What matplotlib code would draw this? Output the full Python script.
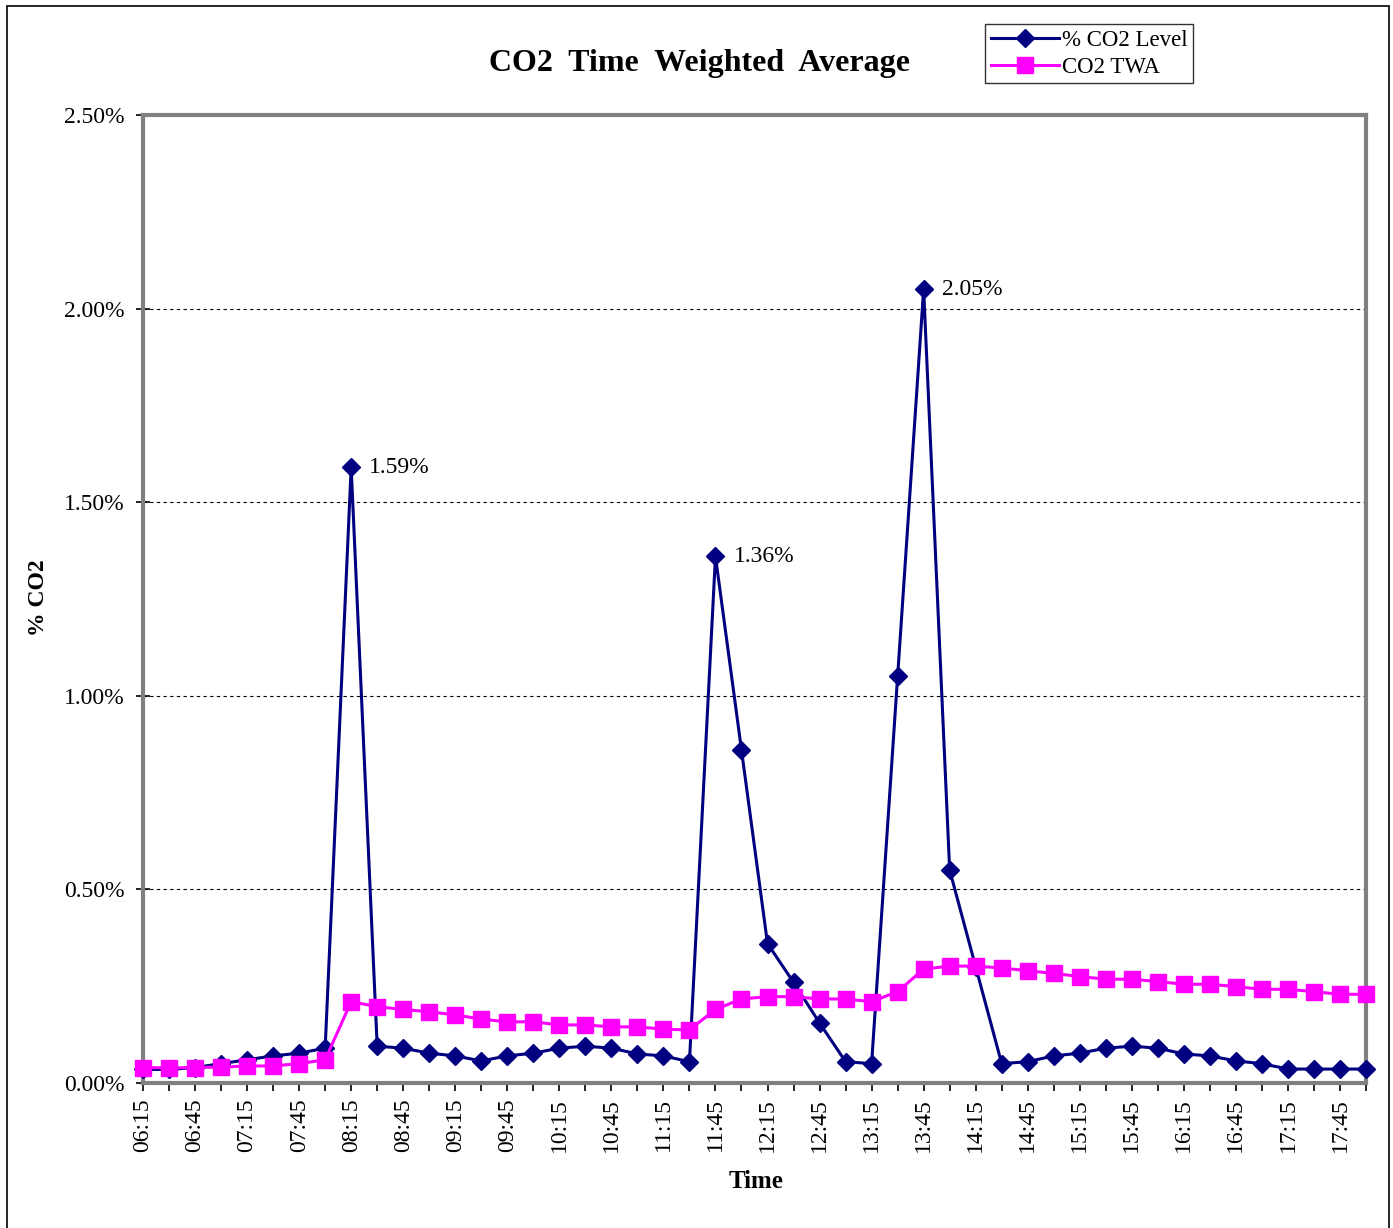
import numpy as np
import matplotlib
matplotlib.use("Agg")
import matplotlib.pyplot as plt
from matplotlib.patches import Rectangle

plt.rcParams['font.family'] = ['Liberation Serif', 'DejaVu Serif']

# 15 minute readings, 06:15 .. 18:00
times = ["06:15", "06:30", "06:45", "07:00", "07:15", "07:30", "07:45", "08:00",
         "08:15", "08:30", "08:45", "09:00", "09:15", "09:30", "09:45", "10:00",
         "10:15", "10:30", "10:45", "11:00", "11:15", "11:30", "11:45", "12:00",
         "12:15", "12:30", "12:45", "13:00", "13:15", "13:30", "13:45", "14:00",
         "14:15", "14:30", "14:45", "15:00", "15:15", "15:30", "15:45", "16:00",
         "16:15", "16:30", "16:45", "17:00", "17:15", "17:30", "17:45", "18:00"]

co2_level = [0.035, 0.035, 0.04, 0.05, 0.06, 0.07, 0.077, 0.09,
             1.59, 0.095, 0.09, 0.077, 0.07, 0.057, 0.07, 0.077,
             0.09, 0.095, 0.09, 0.075, 0.07, 0.055, 1.36, 0.86,
             0.36, 0.26, 0.155, 0.055, 0.05, 1.05, 2.05, 0.55,
             0.30, 0.05, 0.055, 0.07, 0.077, 0.09, 0.095, 0.09,
             0.075, 0.07, 0.057, 0.05, 0.036, 0.036, 0.036, 0.036]

co2_twa = [0.04, 0.039, 0.04, 0.041, 0.044, 0.044, 0.05, 0.06,
           0.21, 0.197, 0.19, 0.184, 0.176, 0.165, 0.158, 0.158,
           0.15, 0.15, 0.145, 0.145, 0.139, 0.137, 0.19, 0.217,
           0.223, 0.223, 0.217, 0.217, 0.21, 0.236, 0.294, 0.302,
           0.302, 0.297, 0.29, 0.283, 0.275, 0.268, 0.268, 0.262,
           0.255, 0.255, 0.249, 0.242, 0.242, 0.236, 0.229, 0.229]

peak_idx = [8, 22, 30]

W, H = 1393, 1228
fig = plt.figure(figsize=(W / 100, H / 100), dpi=100)
ax = fig.add_axes([143 / W, 1 - 1083 / H, (1366 - 143) / W, (1083 - 115) / H])

x = np.arange(len(times))
ax.plot(x, co2_level, color='#000080', lw=2.2, marker='D', ms=9.5,
        label='% CO2 Level', zorder=3, clip_on=False)
ax.plot(x, co2_twa, color='#FF00FF', lw=2.2, marker='s', ms=11.5,
        label='CO2 TWA', zorder=4, clip_on=False)

for i in peak_idx:
    ax.annotate(f"{co2_level[i]:.2f}%", (x[i], co2_level[i]), xytext=(13, 0),
                textcoords='offset points', ha='left', va='center', fontsize=17)

ax.set_xlim(0, len(times) - 1)
ax.set_ylim(0, 2.5)
yt = np.arange(0, 2.51, 0.5)
ax.set_yticks(yt)
ax.set_yticklabels([f"{v:.2f}%" for v in yt], fontsize=17)
ax.set_xticks(x)
ax.set_xticklabels([t if k % 2 == 0 else "" for k, t in enumerate(times)],
                   rotation=90, fontsize=17)
ax.tick_params(axis='x', direction='out', length=6, width=1.2, pad=5)
ax.tick_params(axis='y', direction='inout', length=10, width=1.2, pad=8)

for v in yt[1:-1]:
    ax.axhline(v, color='black', lw=0.8, ls=(0, (3, 3)), zorder=1)

for s in ax.spines.values():
    s.set_color('#808080')
    s.set_linewidth(3)
ax.axhline(0, color='black', lw=1.5, zorder=2, clip_on=False)

fig.text(700 / W, 1 - 64 / H, "CO2  Time  Weighted  Average", ha='center',
         va='center', fontsize=23, fontweight='bold')
fig.text(38 / W, 1 - 598 / H, "% CO2", ha='center', va='center', rotation=90,
         fontsize=17, fontweight='bold')
fig.text(756 / W, 1 - 1181 / H, "Time", ha='center', va='center',
         fontsize=18, fontweight='bold')

leg = fig.legend(loc='upper left', bbox_to_anchor=(985 / W, 1 - 24 / H),
                 fontsize=16.5, frameon=True, fancybox=False, edgecolor='black',
                 handlelength=3.0, handletextpad=0.1, borderpad=0.25,
                 labelspacing=0.25, borderaxespad=0)
leg.get_frame().set_linewidth(1)

fig.patches.append(Rectangle((7 / W, -0.01), (1389 - 7) / W, 1 - 6 / H + 0.01,
                             transform=fig.transFigure, fill=False,
                             edgecolor='black', lw=1.2))

fig.savefig("out.png", dpi=100)
